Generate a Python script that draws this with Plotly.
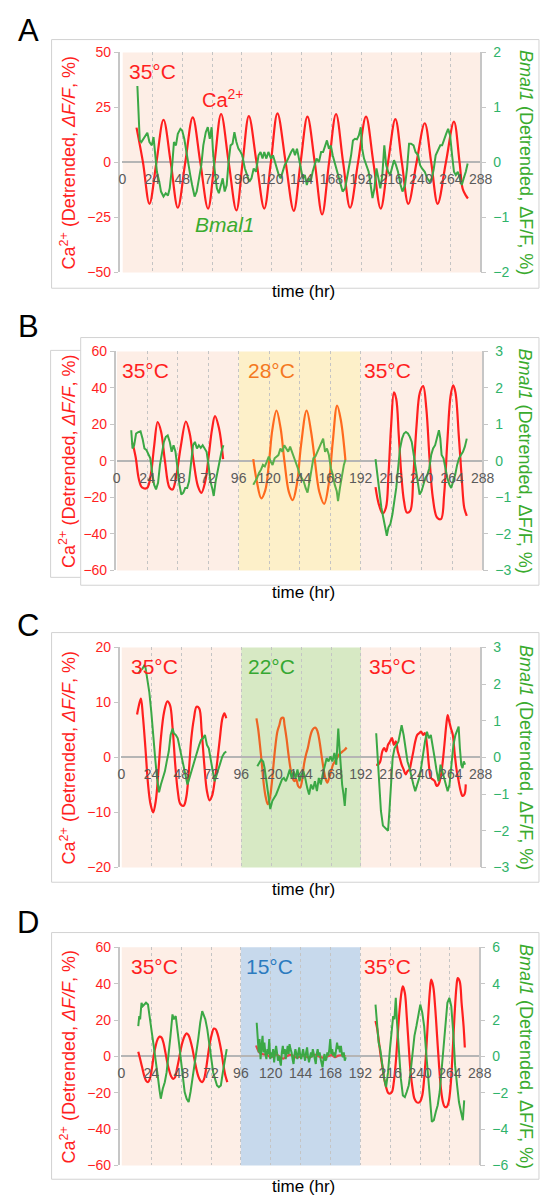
import plotly.graph_objects as go

W, H = 550, 1204


def px(x):
    return x / W


def py(y):
    return 1 - y / H


# ----------------------------------------------------------------- DATA
HOURS = list(range(0, 289, 24))

# Panel A (35 C throughout)
A_ca_t = [11.3, 16.5, 21.7, 27.3, 33, 38.8, 44.5, 50.5, 56.5, 62.6, 68.8, 74, 79.3, 85.4, 91.6, 96.6,
          101.6, 107.8, 114, 119.3, 124.6, 131.2, 137.7, 143.2, 148.7, 154.6, 160.5, 166.1, 171.7,
          177.4, 183, 189.4, 195.8, 201.7, 207.6, 213.5, 219.4, 224.6, 229.8, 236.4, 243, 248.2,
          253.4, 260, 266.5, 271, 273.5, 276, 277.7]
A_ca_v = [15.8, 0, -18.8, 0, 19.4, 0, -20.6, 0, 20.5, 0, -21, 0, 22, 0, -21.8, 0,
          21, 0, -21, 0, 22.3, 0, -22, 0, 20.8, 0, -23.6, 0, 22,
          0, -20.6, 0, 20.8, 0, -21, 0, 19.7, 0, -18.8, 0, 17.8, 0,
          -18.8, 0, 18.5, 0, -12, -15, -16.4]
A_bm_t = [12, 13.9, 15.2, 17.8, 20, 21.7, 23.6, 25, 26, 27.7,
          29.6, 31, 33, 34.8, 36.6, 38, 40, 41.4, 43, 44.5,
          46.6, 48, 49.7, 51.3, 52.9, 54.5, 56, 58, 59.7, 61.8,
          63.4, 65, 67, 68.6, 70.2, 71.7, 72.8, 74.3, 75.9, 77.5,
          79, 80.6, 82.2, 83.8, 85.3, 86.9, 88.5, 90, 91.6, 93.2,
          95, 96.3, 98.4, 100.3, 102, 103.7, 105.5, 107.3, 109.4, 111,
          112.6, 114, 115.7, 117.3, 119.4, 121, 122.5, 124, 125.7, 127.2,
          128.8, 130.4, 132, 134, 135.6, 137.2, 138.7, 140.3, 141.9, 143.5,
          145, 146.6, 148.2, 149.7, 151.3, 152.9, 154.5, 156, 158, 159.7,
          161.3, 162.8, 164.4, 166, 167.5, 169, 171.2, 173.3, 174.9, 177,
          179, 180.6, 182.2, 183.8, 185.3, 186.9, 188.5, 190, 191.6, 192.7,
          194.2, 195.8, 197.9, 199.5, 201, 202.6, 204.2, 205.8, 207.3, 208.9,
          210.5, 212, 213.6, 215.2, 216.8, 218.3, 219.9, 221.5, 223.6, 225.1,
          227.2, 228.8, 230.4, 232, 234, 235.6, 237.7, 239.3, 240.8, 243,
          245, 247, 248.7, 250.3, 251.8, 254, 255.5, 257, 258.6, 260.2,
          261.8, 263.4, 265, 266.5, 268, 269.6, 271.2, 272.8, 274.3, 276,
          277.5]
A_bm_v = [1.39, 0.40, 0.37, 0.46, 0.54, 0.37, 0.31, 0.46, 0.25, -0.17,
          -0.35, -0.53, -0.62, -0.56, -0.6, -0.47, -0.05, 0.37, 0.31, 0.52,
          0.61, 0.58, 0.43, 0.19, 0.01, -0.23, -0.41, -0.62, -0.53, -0.29,
          -0.05, 0.31, 0.55, 0.64, 0.43, 0.64, 0.19, -0.17, -0.47, -0.56,
          -0.41, -0.29, -0.53, -0.41, 0.01, 0.31, 0.34, 0.55, 0.37, 0.25,
          0.19, 0.13, -0.11, -0.26, -0.35, -0.29, -0.11, -0.17, 0.13, 0.19,
          0.07, 0.19, 0.07, 0.19, 0.07, 0.13, 0.01, -0.11, -0.23, -0.29,
          -0.17, -0.05, 0.01, 0.13, 0.19, 0.25, 0.13, 0.25, 0.07, -0.11,
          -0.29, -0.23, -0.41, -0.29, -0.35, -0.17, -0.05, 0.07, 0.01, 0.19,
          0.19, 0.31, 0.40, 0.25, 0.31, 0.13, -0.05, -0.23, -0.35, -0.53,
          -0.47, -0.29, -0.11, 0.13, 0.40, 0.43, 0.42, 0.49, 0.64, 0.25,
          0.07, -0.05, -0.17, -0.41, -0.65, -0.47, -0.11, -0.29, -0.47, -0.23,
          0.31, -0.05, -0.17, -0.23, -0.11, 0.04, -0.05, -0.17, -0.41, -0.53,
          -0.41, -0.11, 0.34, 0.34, 0.31, 0.19, 0.13, -0.05, -0.11, -0.17,
          -0.29, -0.35, -0.29, -0.11, 0.13, 0.25, 0.31, 0.31, 0.43, 0.52,
          0.61, 0.49, 0.13, -0.17, -0.23, -0.17, -0.29, -0.41, -0.29, -0.17,
          -0.02]

# Panel B (35 / 28 / 35 C)
B_ca1_t = [12.5, 15, 17.5, 20, 24, 27, 29.5, 32.3, 35, 38, 41.5, 44, 47, 50.5, 54.5, 57.5,
           60.5, 64, 66.7, 69.5, 72.5, 75, 77.4, 80.5, 83.8]
B_ca1_v = [10, 2, -10, -14.5, -14.8, -7, 8, 21.3, 16, 0, -14.5, -15.7, -8, 8, 21.6, 15,
           0, -14, -17.5, -12, 3, 17, 24.5, 18, 1]
B_bm1_t = [11.5, 12.5, 13.8, 15.3, 17, 18.8, 20.4, 21.9, 23.4, 25,
           26.5, 28, 29.5, 31, 32.6, 34.1, 35.7, 37.2, 38.7, 40.2,
           41.8, 43.3, 44.8, 46.3, 47.9, 49.4, 50.9, 52.5, 54, 55.5,
           57, 58.6, 60.1, 61.6, 63.2, 64.7, 66.2, 67.7, 69.3, 70.8,
           72.3, 73.8, 75.4, 76.4, 77.9, 79.4, 81, 82.5, 84]
B_bm1_v = [0.84, 0.34, 0.43, 0.75, 0.79, 0.81, 0.61, 0.34, 0.3, 0.16,
           0.07, -0.33, -0.65, -0.78, -0.6, -0.11, 0.25, 0.52, 0.66, 0.7,
           0.52, 0.25, 0.43, 0.25, -0.2, -0.65, -0.92, -0.87, -0.74, -0.74,
           -0.56, -0.02, 0.43, 0.52, 0.34, 0.43, 0.36, 0.43, 0.34, 0.25,
           -0.11, -0.56, -0.78, -0.96, -0.56, -0.29, -0.02, 0.25, 0.43]
B_ca2_t = [107.5, 110, 113.8, 117, 120, 122.5, 125.8, 129, 132, 135.5, 138.5, 142, 145, 149.5,
           153, 156, 159.5, 163.3, 167, 170, 173.5, 176.5, 180]
B_ca2_v = [1, -10, -20.5, -16, 0, 17, 27.6, 18, 0, -17, -21.5, -12, 8, 27.6,
           16, 0, -17, -23.5, -12, 10, 30.3, 22, 0.5]
B_bm2_t = [107.5, 109, 110.5, 112, 113.6, 115.1, 116.6, 118.2, 119.7, 121.2,
           122.7, 124.3, 125.8, 127.3, 128.9, 130.4, 131.9, 133.4, 135, 136.5,
           138, 139.5, 141, 142.6, 144.1, 145.7, 147.2, 148.7, 150.2, 151.8,
           153.3, 154.8, 156.4, 157.9, 159.4, 160.9, 162.5, 164, 165.5, 167,
           168.6, 170.1, 171.6, 173.2, 174.2, 175.7, 177.2, 178.8, 180]
B_bm2_v = [-0.65, -0.56, -0.47, -0.33, -0.24, -0.11, -0.15, -0.02, 0.12, -0.02,
           -0.11, 0.07, 0.12, 0.16, 0.34, 0.25, 0.43, 0.34, 0.25, 0.39,
           0.25, 0.12, -0.02, -0.2, -0.38, -0.47, -0.56, -0.74, -0.87, -0.56,
           -0.2, 0.07, 0.12, 0.25, 0.34, 0.48, 0.61, 0.25, 0.34, 0.16,
           -0.2, -0.38, -0.65, -0.83, -1.1, -0.74, -0.38, -0.11, 0.03]
B_ca3_t = [203.7, 206.3, 209.3, 211.9, 213.9, 216, 218.2, 220, 222, 224, 226.1, 228.4, 231,
           233.5, 236, 238.6, 241.2, 243.7, 246.2, 248.8, 252.1, 255.2, 257.7, 260.2, 262.8,
           264.8, 266.6, 269.2, 271.7, 273.5, 275.5]
B_ca3_v = [-14.4, -23.8, -28.8, -25.6, -7.6, 19.5, 37.5, 33.9, 14, -7.6, -22, -28.3, -27.4,
           -7.6, 19.5, 37.5, 41, 28.5, 1.4, -20.2, -31, -31.9, -18.4, 10.5, 35.7,
           41.4, 37.5, 14, -11.2, -25.6, -30.1]
B_bm3_t = [203.7, 205.2, 206.8, 208.3, 209.8, 211.4, 212.6, 213.9, 215.4, 217,
           218.5, 220, 221.5, 223, 224.6, 226.1, 227.6, 229.2, 230.7, 232.2,
           233.8, 235.3, 236.8, 238.4, 239.9, 241.4, 242.9, 244.5, 246, 247.5,
           249, 250.6, 252.1, 253.6, 254.7, 255.7, 257.2, 258.7, 260.2, 261.8,
           263.3, 264.8, 266.4, 267.9, 269.4, 270.9, 272.5, 274, 275.5]
B_bm3_v = [0.05, -0.38, -0.92, -1.28, -1.55, -1.82, -2.05, -1.82, -1.73, -1.46,
           -1.1, -0.74, -0.2, 0.34, 0.61, 0.75, 0.79, 0.75, 0.66, 0.52,
           0.16, -0.2, -0.65, -0.92, -0.83, -0.65, -0.47, -0.38, -0.2, 0.16,
           0.34, 0.43, 0.61, 0.84, 0.61, 0.16, 0.07, -0.2, -0.47, -0.65,
           -0.74, -0.56, -0.38, -0.11, 0.07, 0.16, 0.25, 0.39, 0.61]

# Panel C (35 / 22 / 35 C)
C_ca1_t = [12.5, 14, 15.6, 17.1, 19.2, 21.3, 23.3, 25.4, 27.5, 29.6, 31.6, 34.2, 36.8, 38.9, 41,
           43.1, 45.1, 47.2, 49.8, 51.9, 54, 56, 58.1, 60.2, 62.3, 64.3, 66.4, 68.5, 70.6, 72.6,
           74.7, 76.8, 78.9, 80.9, 82.5, 84]
C_ca1_v = [7.8, 9.5, 10.7, 7.7, 1.7, -4.9, -8.5, -10, -7.9, -2.5, 3.5, 8.3, 10.2, 9.5, 5.3,
           -1.3, -6.1, -8.5, -8.8, -7.3, -2.5, 3.5, 7.1, 9.2, 8.9, 4.7, -1.3, -6.1, -7.8, -7,
           -4.3, -0.7, 3.5, 7.1, 8, 7.1]
C_bm1_t = [13.5, 15, 16.6, 18.2, 19.2, 20.8, 22.3, 23.9, 25.4, 27,
           28.5, 30.1, 31.6, 33.2, 34.8, 36.3, 37.9, 39.4, 41, 42,
           43.6, 45.1, 46.7, 48.2, 49.8, 51.4, 52.9, 54.5, 56, 57.6,
           59.1, 60.7, 62.3, 63.8, 65.4, 66.9, 68.5, 70, 71.6, 73.2,
           74.7, 76.3, 77.8, 79.4, 80.9, 82.5, 84]
C_bm1_v = [2.28, 2.37, 2.41, 2.5, 2.46, 2.14, 1.78, 1.24, 0.52, -0.02,
           -0.56, -0.95, -0.74, -0.56, -0.38, -0.11, 0.16, 0.61, 0.79, 0.66,
           0.61, 0.52, 0.25, -0.02, -0.29, -0.56, -0.74, -0.56, -0.38, -0.2,
           -0.02, 0.16, 0.34, 0.48, 0.52, 0.61, 0.34, 0.25, -0.02, -0.38,
           -0.65, -0.47, -0.29, -0.11, 0.03, 0.12, 0.16]
C_ca2_t = [108.2, 109.5, 111, 112.6, 114.1, 115.7, 117.3, 118.8, 120.4, 121.9, 123.5, 125, 126.6,
           128.1, 129.7, 130.7, 132.3, 133.9, 135.4, 137, 138.5, 140.1, 141.6, 143.2, 144.7, 146.3,
           147.9, 149.4, 151, 152.5, 154.1, 155.6, 157.2, 158.8, 160.3, 161.9, 163.4, 165, 166.5,
           168.1, 169.6, 171.2, 172.8, 174.3, 175.9, 177.4, 179, 180.5]
C_ca2_v = [7.1, 5.3, 2.3, -1.3, -4.9, -7.3, -8.5, -7.6, -4.9, -1.3, 2.3, 4.7, 5.9,
           7.1, 7.2, 5.9, 3.5, 0.5, -1.9, -3.7, -4.3, -4, -5.2, -5.5, -4.3, -1.3,
           0.5, 1.7, 3.5, 4.7, 5.3, 5.4, 4.7, 2.9, 0.5, -1.9, -3.7, -4.6, -3.7,
           -2.5, -1.3, -0.7, -0.1, 0.5, 0.8, 1.1, 1.4, 1.8]
C_bm2_t = [108.9, 110.5, 112, 113.6, 114.7, 116.2, 117.8, 119.3, 120.9, 122.4,
           124, 125.6, 127.1, 128.7, 130.2, 131.8, 133.3, 134.9, 136.4, 138,
           139.6, 141.1, 142.7, 144.2, 145.8, 147.3, 148.9, 150.4, 152, 153.6,
           155.1, 156.7, 158.2, 159.8, 161.3, 162.9, 164.5, 166, 167.6, 169.1,
           170.7, 172.2, 173.8, 174.8, 175.9, 176.9, 178, 179, 180]
C_bm2_v = [-0.24, -0.15, -0.06, -0.11, -0.29, -0.65, -1.01, -1.41, -1.19, -1.1,
           -1.01, -0.87, -0.74, -0.6, -0.56, -0.65, -0.51, -0.33, -0.56, -0.38,
           -0.56, -0.33, -0.65, -0.47, -0.38, -0.56, -0.83, -1.01, -0.74, -0.87,
           -0.65, -0.92, -0.56, -0.74, -0.47, -0.2, -0.02, -0.11, 0.03, -0.11,
           0.12, -0.2, 0.79, 0.25, -0.38, -0.74, -1.01, -1.32, -0.83]
C_ca3_t = [204.2, 206, 207.5, 209.1, 210.6, 212.2, 213.7, 215.3, 216.9, 218.4, 220, 221.5, 223.1,
           224.6, 226.2, 227.8, 229.3, 230.9, 232.4, 234, 235.5, 237.1, 238.7, 240.2, 241.8, 243.3,
           244.9, 246.4, 248, 249.5, 251.1, 252.7, 254.2, 255.8, 257.3, 258.9, 260.4, 261.5, 262.5,
           264.1, 265.6, 267.2, 268.8, 270.3, 271.9, 273.4, 275, 276]
C_ca3_v = [-1.3, -1.3, -0.7, 1.1, 1.7, 1.1, 2.3, 2.9, 3.5, 2.3, 2.9, 1.1, -0.1,
           -1.3, -2.2, -3.1, -2.5, -2.2, -0.7, 1.1, 2.9, 4.1, 4.4, 4.7, 4.1, 4.4,
           2.3, -1.3, -3.7, -4, -4.3, -5.2, -4.9, -3.7, -1.3, 2.3, 5.9, 7.7, 6.8,
           5.3, 4.1, 0.5, -2.5, -4.3, -6.1, -7, -6.7, -4.9]
C_bm3_t = [204.2, 205.4, 206.7, 208, 209.6, 211.2, 212.7, 213.7, 214.8, 215.8,
           217.4, 218.9, 220.5, 222, 223.6, 224.6, 226.2, 227.8, 229.3, 230.9,
           232.4, 234, 235.5, 237.1, 238.7, 240.2, 241.8, 243.3, 244.9, 246.4,
           248, 249.5, 251.1, 252.7, 254.2, 255.8, 257.3, 258.9, 260.4, 261.5,
           263, 264.6, 266.1, 267.7, 269.3, 270.3, 271.3, 272.4, 273.4, 274.4,
           275.5]
C_bm3_v = [0.66, -0.02, -0.74, -1.46, -1.86, -1.91, -1.95, -2.0, -1.46, -0.74,
           -0.02, 0.25, 0.34, 0.43, 0.7, 0.88, 0.61, 0.25, -0.11, -0.29,
           -0.56, -0.74, -0.92, -0.74, -0.56, -0.29, 0.16, 0.43, 0.7, 0.52,
           0.61, 0.34, -0.02, -0.38, -0.65, -0.2, -0.38, -0.56, -0.74, -0.92,
           -0.74, -0.2, 0.34, 0.61, 0.79, 0.84, 0.25, -0.2, -0.29, -0.11,
           -0.2]

# Panel D (35 / 15 / 35 C)
D_ca1_t = [13.5, 15, 16.6, 18.2, 19.7, 21.3, 22.8, 24.4, 25.9, 27.5, 29.1, 30.6, 32.2, 33.7, 35.3,
           36.8, 38.4, 39.9, 41.5, 43.1, 44.6, 46.2, 47.7, 49.3, 50.8, 52.4, 54, 55.5, 57.1, 58.6,
           60.2, 61.7, 63.3, 64.9, 66.4, 68, 69.5, 71.1, 72.6, 74.2, 75.7, 77.3, 78.9, 80.4, 82,
           83.5, 85.1]
D_ca1_v = [2.5, -1.5, -6, -10.5, -13.3, -14.2, -12.4, -6.9, 0.4, 5.8, 9.5, 10.9, 10.4, 7.6, 2.2,
           -3.3, -7.8, -10.9, -12.4, -11.5, -6.9, -1.5, 4, 8.5, 11.3, 12.7, 11.6, 8.5, 4, -1.5,
           -6.9, -10.9, -13.3, -14.2, -12.4, -6.9, 0.4, 7.6, 12.2, 15.3, 14.9, 12.2, 7.6, 2.2, -5.1,
           -10.5, -14.2]
D_bm1_t = [13.5, 14.3, 15, 16.1, 17.1, 18.2, 19.7, 21.3, 22.8, 24.4,
           25.9, 27.5, 29.1, 30.6, 31.6, 33.2, 34.8, 36.3, 37.9, 39.4,
           41, 42, 43.6, 44.6, 46.2, 47.7, 49.3, 50.8, 52.4, 54,
           55.5, 57.1, 58.6, 60.2, 61.7, 63.3, 64.9, 65.9, 67.4, 69,
           70.6, 72.1, 73.7, 75.2, 76.8, 78.3, 79.9, 81.5, 83, 84.6]
D_bm1_v = [1.67, 2.22, 2.04, 2.95, 2.76, 2.85, 2.95, 2.85, 2.22, 1.31,
           0.58, -0.15, -1.05, -1.87, -2.33, -1.78, -1.42, -0.87, 0.04, 1.13,
           2.31, 2.04, 2.22, 1.49, 0.76, -0.15, -1.24, -1.96, -2.33, -2.51,
           -1.96, -1.24, -0.69, 0.04, 0.95, 1.85, 2.49, 2.31, 2.04, 1.49,
           0.76, -0.15, -0.87, -1.24, -1.6, -1.69, -1.6, -0.87, -0.15, 0.4]
D_ca2_t = [108.2, 110.8, 113.4, 117.3, 120, 122.4, 125, 127.6, 130, 132.8, 135.5, 138, 140.5, 143.2,
           146, 148.4, 151, 153.6, 156, 158.8, 161.5, 163.9, 166.5, 169.1, 171.7, 174.3, 177, 180]
D_ca2_v = [6, 2.2, 1.3, 0.7, -0.5, 0.4, 0.9, -0.5, -1.2, 0, 0.8, 0.4, -0.6, -0.2,
           0.6, 0, -0.8, 0.4, 0.9, 0, -0.7, -0.5, 0.3, 0.7, -0.4, 0.4, 0.6, 0]
D_bm2_t = [108.7, 109.5, 110.3, 111, 111.8, 112.6, 113.4, 114.1, 114.9, 115.7,
           116.5, 117.3, 118, 118.8, 119.6, 120.4, 121.1, 121.9, 122.7, 123.5,
           124.3, 125, 125.8, 126.6, 127.4, 128.1, 128.9, 129.7, 130.5, 131.3,
           132, 132.8, 133.6, 134.4, 135.1, 135.9, 136.7, 137.5, 138.3, 139,
           139.8, 140.6, 141.4, 142.2, 142.9, 143.7, 144.5, 145.3, 146, 146.8,
           147.6, 148.4, 149.2, 149.9, 150.7, 151.5, 152.3, 153, 153.8, 154.6,
           155.4, 156.2, 156.9, 157.7, 158.5, 159.3, 160.1, 160.8, 161.6, 162.4,
           163.2, 163.9, 164.7, 165.5, 166.3, 167.1, 167.8, 168.6, 169.4, 170.2,
           171, 171.7, 172.5, 173.3, 174.1, 174.8, 175.6, 176.4, 177.2, 178,
           178.7, 179.5, 180.3]
D_bm2_v = [1.85, 0.95, 0.22, 0.95, -0.15, 0.58, 1.13, 0.22, 0.76, 0.13,
           -0.15, 0.4, 0.13, 0.95, -0.15, 0.22, -0.05, 0.4, -0.33, 0.22,
           0.58, 0.22, -0.24, 0.04, -0.33, -0.51, 0.22, 0.58, 0.13, 0.4,
           -0.15, 0.22, 0.58, 0.13, 0.67, 0.4, 0.22, -0.15, -0.42, 0.04,
           0.4, 0.13, -0.15, 0.22, 0.49, 0.04, -0.15, 0.13, 0.4, 0.04,
           -0.24, 0.22, 0.49, 0.04, -0.33, -0.05, 0.22, -0.05, 0.4, 0.13,
           -0.15, -0.42, 0.13, 0.4, 0.04, 0.22, -0.15, -0.33, -0.6, -0.15,
           0.13, -0.24, -0.15, 0.22, 0.04, 0.4, 0.95, 0.13, 0.4, 0.04,
           0.22, -0.05, 0.4, 0.76, 0.4, 0.58, 0.22, 0.58, 0.13, -0.05,
           0.22, -0.24, -0.05]
D_ca3_t = [204.2, 205.4, 206.7, 208, 209.6, 211.2, 212.7, 214.3, 215.8, 217.4, 218.9, 220.5, 222,
           223.6, 225.2, 226.2, 227.8, 229.3, 230.9, 232.4, 234, 235.5, 237.1, 238.7, 240.2, 241.8,
           243.3, 244.9, 246.4, 248, 249, 250.6, 252.1, 253.7, 255.3, 256.8, 258.4, 259.9, 261.5,
           263, 264.6, 266.2, 267.7, 269.3, 270.3, 271.9, 273.4, 275, 276]
D_ca3_v = [19.5, 15.8, 9.5, 2.2, -5.1, -12.4, -16.9, -20, -20.5, -19.6, -14.2, -3.3, 11.3,
           25.8, 35.8, 38.5, 34.9, 22.2, 5.8, -8.7, -17.8, -23.3, -25.1, -25.5, -24.7, -21.5,
           -12.4, 2.2, 20.4, 36.7, 42.2, 38.5, 27.6, 11.3, -5.1, -17.8, -25.1, -27.8, -27.8,
           -25.1, -16, 2.2, 22.2, 38.5, 43.1, 41.3, 29.5, 16.7, 4.9]
D_bm3_t = [204.2, 205.4, 206.7, 208, 209.6, 211.2, 212.7, 214.3, 215.8, 217.4,
           218.4, 219.4, 220.5, 221.5, 223.1, 224.6, 226.2, 227.8, 229.3, 230.9,
           232.4, 234, 235.5, 237.1, 238.7, 240.2, 241.8, 243.3, 244.9, 246.4,
           248, 249.5, 251.1, 252.7, 254.2, 255.8, 257.3, 258.9, 260.4, 262,
           263.6, 265.1, 266.7, 268.2, 269.8, 271.3, 272.9, 274.4, 275.5]
D_bm3_v = [2.85, 1.85, 0.76, 0.4, -0.51, -1.24, -1.69, -0.87, 0.4, 1.67,
           2.22, 2.04, 3.22, 1.85, 0.22, -1.24, -2.15, -2.24, -1.96, -1.6,
           -0.87, 0.22, 1.13, 1.67, 2.22, 2.85, 2.4, 1.67, 0.22, -1.24,
           -2.33, -3.6, -3.51, -3.05, -2.69, -1.96, -0.87, 0.4, 1.67, 2.95,
           3.22, 2.76, 1.31, -0.51, -1.6, -2.51, -3.05, -3.51, -2.42]

# ----------------------------------------------------------------- STYLE
FONT = "Liberation Sans, Arial, Helvetica, sans-serif"
RED = "#ff1f1f"
ORANGE = "#ff6a1e"
GREEN = "#3ba845"
GREEN_TITLE = "#3aab2e"
GREEN_TICK = "#2fb36a"
GRAY_AX = "#c6c6c6"
PEACH = "#fdeee6"
YELLOW = "#fdf0c9"
LGREEN = "#d7e9c4"
LBLUE = "#c7d9ec"

panels = [
    dict(letter="A", x0=122, x1=491, top=45, bottom=268, yl=118, r1=50, d1=25, r2=2, d2=1,
         frame=(49, 32, 551, 284), tt=287, ly=23,
         regions=[(0, 288, PEACH)],
         temps=[("35°C", RED, 153)],
         series=[(A_ca_t, A_ca_v, RED, "ca"), (A_bm_t, A_bm_v, GREEN, "bm")]),
    dict(letter="B", x0=116, x1=493, top=348, bottom=570, yl=114, r1=60, d1=20, r2=3, d2=1,
         frame=(79, 334, 551, 585), tt=592, ly=323,
         regions=[(0, 96, PEACH), (96, 192, YELLOW), (192, 288, PEACH)],
         temps=[("35°C", RED, 146), ("28°C", "#f4791f", 275), ("35°C", RED, 395)],
         series=[(B_ca1_t, B_ca1_v, RED, "ca"), (B_ca2_t, B_ca2_v, ORANGE, "ca"),
                 (B_ca3_t, B_ca3_v, RED, "ca"),
                 (B_bm1_t, B_bm1_v, GREEN, "bm"), (B_bm2_t, B_bm2_v, "#5ab04a", "bm"),
                 (B_bm3_t, B_bm3_v, GREEN, "bm")]),
    dict(letter="C", x0=121, x1=491, top=648, bottom=871, yl=118, r1=20, d1=10, r2=3, d2=1,
         frame=(49, 633, 551, 886), tt=893, ly=626,
         regions=[(0, 96, PEACH), (96, 192, LGREEN), (192, 288, PEACH)],
         temps=[("35°C", RED, 155), ("22°C", "#36a832", 276), ("35°C", RED, 400)],
         series=[(C_ca1_t, C_ca1_v, RED, "ca"), (C_ca2_t, C_ca2_v, "#ee6424", "ca"),
                 (C_ca3_t, C_ca3_v, RED, "ca"),
                 (C_bm1_t, C_bm1_v, GREEN, "bm"), (C_bm2_t, C_bm2_v, GREEN, "bm"),
                 (C_bm3_t, C_bm3_v, GREEN, "bm")]),
    dict(letter="D", x0=121, x1=490, top=952, bottom=1173, yl=118, r1=60, d1=20, r2=6, d2=2,
         frame=(49, 937, 551, 1187), tt=1194, ly=927,
         regions=[(0, 96, PEACH), (96, 192, LBLUE), (192, 288, PEACH)],
         temps=[("35°C", RED, 155), ("15°C", "#2b7bbf", 273), ("35°C", RED, 395)],
         series=[(D_ca1_t, D_ca1_v, RED, "ca"), (D_ca2_t, D_ca2_v, "#e8454a", "ca"),
                 (D_ca3_t, D_ca3_v, RED, "ca"),
                 (D_bm1_t, D_bm1_v, GREEN, "bm"), (D_bm2_t, D_bm2_v, GREEN, "bm"),
                 (D_bm3_t, D_bm3_v, GREEN, "bm")]),
]

fig = go.Figure()
layout = dict(
    width=W, height=H, margin=dict(l=0, r=0, t=0, b=0),
    paper_bgcolor="white", plot_bgcolor="rgba(0,0,0,0)",
    showlegend=False, font=dict(family=FONT),
)
shapes = []
annotations = []

for k, p in enumerate(panels):
    xs = "" if k == 0 else str(k + 1)
    yl_i, yr_i = 2 * k + 1, 2 * k + 2
    yl_s = "" if yl_i == 1 else str(yl_i)
    yr_s = str(yr_i)
    xname, ylname, yrname = "x" + xs, "y" + yl_s, "y" + yr_s
    zero_y = (p["top"] + p["bottom"]) / 2
    ydom = [py(p["bottom"]), py(p["top"])]

    layout["xaxis" + xs] = dict(
        domain=[px(p["x0"]), px(p["x1"])], range=[0, 288], anchor="free",
        position=py(zero_y), tickvals=HOURS, ticks="outside", ticklen=4,
        tickcolor="rgba(0,0,0,0)", showline=False, zeroline=False,
        showgrid=True, gridcolor="#c4c4c4", griddash="dot", gridwidth=1,
        tickfont=dict(size=14, color="#5a5a5a", family=FONT), fixedrange=True,
    )
    layout["yaxis" + yl_s] = dict(
        domain=ydom, range=[-p["r1"], p["r1"]], dtick=p["d1"], anchor="free",
        position=px(p["yl"]), side="left", showline=True, linecolor=GRAY_AX, linewidth=1.5,
        ticks="outside", ticklen=4, tickcolor=GRAY_AX, showgrid=False,
        zeroline=True, zerolinecolor="#b5b5b5", zerolinewidth=1.5,
        tickfont=dict(size=14, color=RED, family=FONT), fixedrange=True,
    )
    layout["yaxis" + yr_s] = dict(
        domain=ydom, range=[-p["r2"], p["r2"]], dtick=p["d2"], overlaying=ylname,
        side="right", anchor="free", position=px(p["x1"]),
        showline=True, linecolor=GRAY_AX, linewidth=1.5,
        ticks="outside", ticklen=5, tickcolor=GRAY_AX, showgrid=False, zeroline=False,
        ticklabelstandoff=4,
        tickfont=dict(size=14, color=GREEN_TICK, family=FONT), fixedrange=True,
    )

    for (a, b, col) in p["regions"]:
        shapes.append(dict(type="rect", xref=xname, yref=ylname + " domain", x0=a, x1=b,
                           y0=0, y1=1, fillcolor=col, line=dict(width=0), layer="below"))

    fx0, fy0, fx1, fy1 = p["frame"]
    shapes.append(dict(type="rect", xref="paper", yref="paper", x0=px(fx0), x1=px(fx1),
                       y0=py(fy1), y1=py(fy0), line=dict(color="#d2d2d2", width=1),
                       fillcolor="rgba(0,0,0,0)", layer="below"))
    if p["letter"] == "B":
        shapes.append(dict(type="path", xref="paper", yref="paper",
                           path=f"M {px(79)} {py(347)} L {px(48)} {py(347)} L {px(48)} {py(577)} L {px(79)} {py(577)}",
                           line=dict(color="#d2d2d2", width=1), layer="below"))

    for (t, v, col, kind) in p["series"]:
        fig.add_trace(go.Scatter(
            x=t, y=v, mode="lines",
            line=dict(color=col, width=2.2 if kind == "ca" else 2,
                      shape="spline" if kind == "ca" else "linear", smoothing=1.0),
            xaxis=xname, yaxis=ylname if kind == "ca" else yrname, hoverinfo="skip",
        ))

    # texts
    annotations.append(dict(text=p["letter"], x=px(25), y=py(p["ly"]), xref="paper", yref="paper",
                            showarrow=False, font=dict(size=31, color="black", family=FONT),
                            xanchor="center", yanchor="middle"))
    annotations.append(dict(text="time (hr)", x=px(308), y=py(p["tt"]), xref="paper", yref="paper",
                            showarrow=False, font=dict(size=17, color="black", family=FONT),
                            xanchor="center", yanchor="middle"))
    annotations.append(dict(text="Ca<sup>2+</sup> (Detrended, <i>ΔF/F</i>, %)", x=px(66),
                            y=py(zero_y), xref="paper", yref="paper", showarrow=False,
                            textangle=-90, font=dict(size=18, color=RED, family=FONT),
                            xanchor="center", yanchor="middle"))
    annotations.append(dict(text="<i>Bmal1</i> (Detrended, ΔF/F, %)", x=px(537),
                            y=py(zero_y), xref="paper", yref="paper", showarrow=False,
                            textangle=90, font=dict(size=18, color=GREEN_TITLE, family=FONT),
                            xanchor="center", yanchor="middle"))
    for (txt, col, cx) in p["temps"]:
        annotations.append(dict(text=txt, x=px(cx), y=py(p["top"] + 19), xref="paper",
                                yref="paper", showarrow=False,
                                font=dict(size=21, color=col, family=FONT),
                                xanchor="center", yanchor="middle"))

annotations.append(dict(text="Ca<sup>2+</sup>", x=px(226), y=py(92), xref="paper", yref="paper",
                        showarrow=False, font=dict(size=20, color=RED, family=FONT),
                        xanchor="center", yanchor="middle"))
annotations.append(dict(text="<i>Bmal1</i>", x=px(228), y=py(219), xref="paper", yref="paper",
                        showarrow=False, font=dict(size=21, color=GREEN_TITLE, family=FONT),
                        xanchor="center", yanchor="middle"))

layout["shapes"] = shapes
layout["annotations"] = annotations
fig.update_layout(**layout)
fig.write_html("out.html")
